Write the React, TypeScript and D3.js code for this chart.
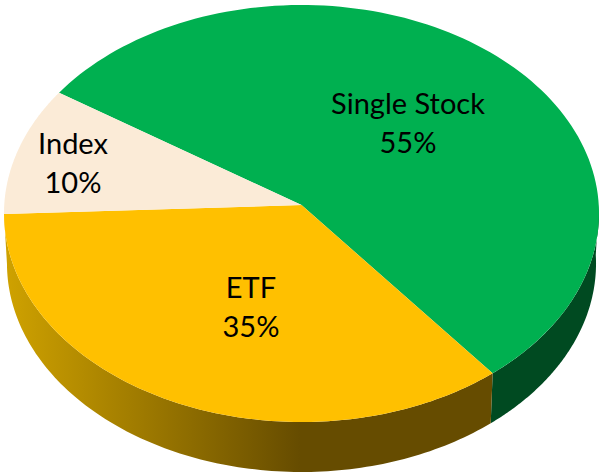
import React from "react";
import * as d3 from "d3";

const categories = ["Single Stock", "ETF", "Index"];
const shares = [55, 35, 10];
const topColors = ["#00B050", "#FFC000", "#FBEBD7"];

const WIDTH = 600;
const HEIGHT = 472;
const CX = 301.5;
const CY = 213.5;
const RX = 297.5;
const RY = 208.5;
const APEX_LIFT = 8.5;
const DEPTH = 50;
const WALL_SCALE = 0.99;
const START = (-56.5 * Math.PI) / 180;
const LABEL_ANCHORS: [number, number][] = [
  [408, 104],
  [251, 288],
  [73, 144],
];
const LINE_GAP = 39;

const k = APEX_LIFT / RY;
const shrink = Math.sqrt(1 - k * k);
const xScale = d3.scaleLinear().domain([-1, 1]).range([CX - RX * shrink, CX + RX * shrink]);
const yScale = d3.scaleLinear().domain([-1, 1]).range([CY + RY, CY - RY]);

// Perspective projection of a unit disc point onto the tilted pie's top face
function project(theta: number, r = 1): [number, number] {
  const u = r * Math.sin(theta);
  const v = r * Math.cos(theta);
  const d = 1 + k * v;
  const X = u / d;
  const Y = (v + k) / d;
  return [xScale(X), yScale(Y)];
}
function projectBottom(theta: number): [number, number] {
  const [x, y] = project(theta);
  return [CX + (x - CX) * WALL_SCALE, y + DEPTH];
}

const arcs = d3
  .pie<number>()
  .sort(null)
  .startAngle(START)
  .endAngle(START + 2 * Math.PI)(shares);

const line = d3.line();
const sampleAngles = (a: number, b: number) => d3.range(0, 121).map((i) => a + ((b - a) * i) / 120);

function slicePath(a: number, b: number) {
  const pts = [project(0, 0), ...sampleAngles(a, b).map((t) => project(t))];
  return line(pts) + "Z";
}
function wallPath(a: number, b: number) {
  const angles = sampleAngles(a, b);
  const pts = [...angles.map((t) => project(t)), ...angles.slice().reverse().map(projectBottom)];
  return line(pts) + "Z";
}

const HALF = Math.PI / 2;

export default function App() {
  const [green, etf] = arcs;
  return (
    <svg
      width={WIDTH}
      height={HEIGHT}
      viewBox={`0 0 ${WIDTH} ${HEIGHT}`}
      style={{ position: "absolute", left: 0, top: 0, background: "#fff" }}
    >
      <defs>
        <linearGradient id="etfWall" gradientUnits="userSpaceOnUse" x1={5} x2={300} y1={0} y2={0}>
          <stop offset="0" stopColor="#CFA200" />
          <stop offset="1" stopColor="#664C00" />
        </linearGradient>
      </defs>
      <path d={wallPath(HALF, green.endAngle) ?? ""} fill="#004A21" />
      <path d={wallPath(etf.startAngle, etf.endAngle) ?? ""} fill="url(#etfWall)" />
      {arcs.map((a, i) => (
        <path key={categories[i]} d={slicePath(a.startAngle, a.endAngle)} fill={topColors[i]} />
      ))}
      {categories.map((c, i) => (
        <text
          key={c}
          textAnchor="middle"
          fontFamily="Lato, 'Open Sans', sans-serif"
          fontSize={29}
          fill="#000"
        >
          <tspan x={LABEL_ANCHORS[i][0]} y={LABEL_ANCHORS[i][1] + 10}>
            {c}
          </tspan>
          <tspan x={LABEL_ANCHORS[i][0]} y={LABEL_ANCHORS[i][1] + 10 + LINE_GAP}>
            {shares[i]}%
          </tspan>
        </text>
      ))}
    </svg>
  );
}
